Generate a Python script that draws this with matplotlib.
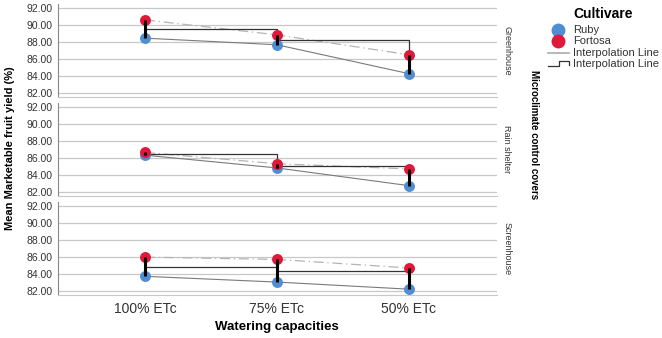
import matplotlib
matplotlib.use("Agg")
import matplotlib.pyplot as plt
from matplotlib.lines import Line2D
import numpy as np

plt.rcParams['font.family'] = ['Liberation Sans', 'DejaVu Sans']

categories = ["100% ETc", "75% ETc", "50% ETc"]
panels = ["Greenhouse", "Rain shelter", "Screenhouse"]
ruby = {
    "Greenhouse": [88.43, 87.65, 84.24],
    "Rain shelter": [86.30, 84.79, 82.70],
    "Screenhouse": [83.68, 83.00, 82.16],
}
fortosa = {
    "Greenhouse": [90.59, 88.82, 86.47],
    "Rain shelter": [86.62, 85.29, 84.67],
    "Screenhouse": [85.95, 85.68, 84.67],
}
yticks = [82, 84, 86, 88, 90, 92]

W, H = 662, 338
fig = plt.figure(figsize=(W / 100, H / 100), dpi=100)

blue = "#4F8ED2"
red = "#E0183A"
left, right = 58, 497
tops = [4, 103, 202]
ph = 93
x = np.arange(len(categories))

for i, p in enumerate(panels):
    ax = fig.add_axes([left / W, 1 - (tops[i] + ph) / H, (right - left) / W, ph / H])
    r = np.array(ruby[p])
    f = np.array(fortosa[p])
    m = (r + f) / 2
    ax.plot(x, r, color="#7a7a7a", lw=0.8, zorder=2)
    ax.plot(x, f, color="#b4b4b4", lw=0.9, ls=(0, (8, 3, 1, 3)), zorder=2)
    ax.plot(x, m, color="#333333", lw=0.9, drawstyle="steps-post", zorder=3)
    ax.scatter(x, r, s=62, color=blue, zorder=4, linewidths=0)
    ax.scatter(x, f, s=62, color=red, zorder=4, linewidths=0)
    ax.vlines(x, r, f, color="black", lw=2.2, zorder=5)
    ax.set_xlim(-0.66, 2.67)
    ax.set_ylim(81.47, 92.47)
    ax.set_yticks(yticks)
    ax.set_yticklabels([f"{v:.2f}" for v in yticks], fontsize=7.5, color="#333333")
    ax.grid(axis="y", color="#c8c8c8", lw=0.9)
    ax.set_axisbelow(True)
    ax.tick_params(length=0, pad=4)
    for s in ["top", "right"]:
        ax.spines[s].set_visible(False)
    ax.spines["left"].set_color("#888888")
    ax.spines["bottom"].set_color("#c8c8c8")
    ax.set_xticks(x)
    if i < 2:
        ax.set_xticklabels([])
    else:
        ax.set_xticklabels(categories, fontsize=10, color="#333333")
        ax.tick_params(axis="x", pad=5)
    fig.text(507 / W, 1 - (tops[i] + ph / 2) / H, p, rotation=-90, ha="center",
             va="center", fontsize=6.5, color="#333333")

fig.text(10 / W, 1 - 148 / H, "Mean Marketable fruit yield (%)", rotation=90,
         ha="center", va="center", fontsize=8, fontweight="bold")
fig.text(277 / W, 1 - 327 / H, "Watering capacities", ha="center", va="center",
         fontsize=9.5, fontweight="bold")
fig.text(534 / W, 1 - 135 / H, "Microclimate control covers", rotation=-90,
         ha="center", va="center", fontsize=7, fontweight="bold")

# legend
def fx(px):
    return px / W

def fy(py):
    return 1 - py / H

fig.text(fx(573), fy(14), "Cultivare", ha="left", va="center", fontsize=10, fontweight="bold")
fig.add_artist(Line2D([fx(558)], [fy(30)], marker="o", ms=10, color=blue, mew=0))
fig.add_artist(Line2D([fx(558)], [fy(41)], marker="o", ms=10, color=red, mew=0))
fig.text(fx(573), fy(30), "Ruby", ha="left", va="center", fontsize=8, color="#333333")
fig.text(fx(573), fy(41), "Fortosa", ha="left", va="center", fontsize=8, color="#333333")
fig.add_artist(Line2D([fx(548), fx(569)], [fy(53), fy(53)], color="#aaaaaa", lw=1.2))
fig.text(fx(573), fy(53), "Interpolation Line", ha="left", va="center", fontsize=8, color="#333333")
fig.add_artist(Line2D([fx(548), fx(559), fx(559), fx(569), fx(569)],
                      [fy(66), fy(66), fy(61), fy(61), fy(65)], color="#333333", lw=0.9))
fig.text(fx(573), fy(64), "Interpolation Line", ha="left", va="center", fontsize=8, color="#333333")

fig.savefig("out.png", dpi=100)
